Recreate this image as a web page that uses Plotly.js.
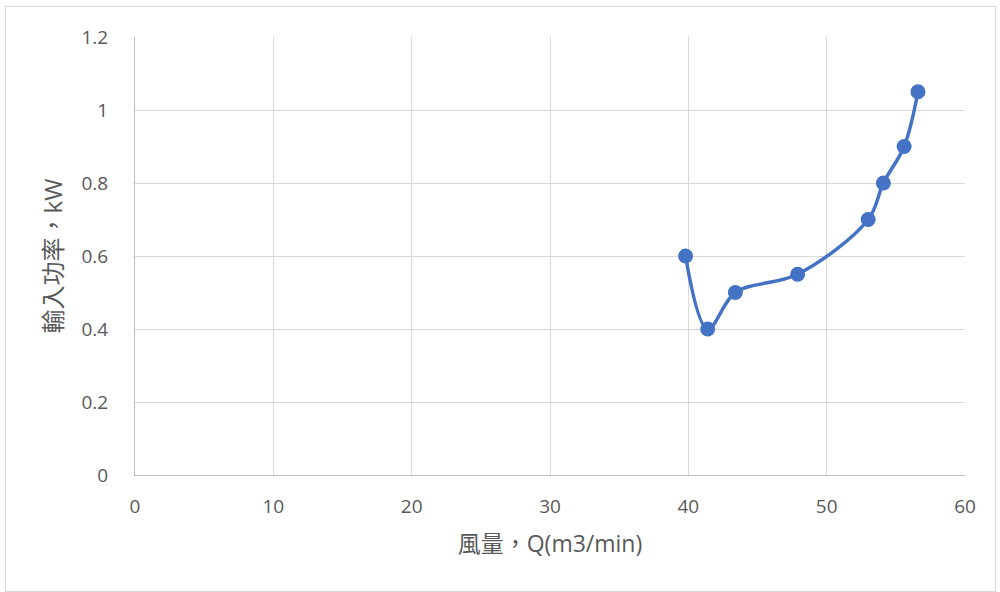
<!DOCTYPE html>
<html>
<head>
<meta charset="utf-8">
<script src="https://cdn.plot.ly/plotly-3.0.1.min.js"></script>
<style>
html,body{margin:0;padding:0;background:#fff;}
#chart{width:1000px;height:592px;}
#frame{position:absolute;left:5px;top:6px;width:989px;height:584px;border:1px solid #d9d9d9;pointer-events:none;}
</style>
</head>
<body>
<div id="chart"></div>
<div id="frame"></div>
<script>
const airflow = [39.8, 41.4, 43.4, 47.9, 53.0, 54.1, 55.6, 56.6];
const inputPower = [0.6, 0.4, 0.5, 0.55, 0.7, 0.8, 0.9, 1.05];
const xTicks = [0, 10, 20, 30, 40, 50, 60];
const yTicks = [0, 0.2, 0.4, 0.6, 0.8, 1, 1.2];
const yTickText = ['0', '0.2', '0.4', '0.6', '0.8', '1', '1.2'];

const fontFam = '"Open Sans", "Noto Sans CJK TC", sans-serif';
const trace = {
  x: airflow, y: inputPower, type: 'scatter', mode: 'lines+markers',
  line: {color: '#4472c4', width: 3.5, shape: 'spline', smoothing: 1},
  marker: {color: '#4472c4', size: 15}
};
const layout = {
  width: 1000, height: 592,
  margin: {l: 135, r: 35, t: 37, b: 117},
  paper_bgcolor: '#fff', plot_bgcolor: '#fff',
  showlegend: false,
  font: {family: fontFam, color: '#595959', size: 19},
  xaxis: {
    range: [0, 60], tickvals: xTicks, ticktext: xTicks.map(String),
    showgrid: true, gridcolor: '#d9d9d9', gridwidth: 1,
    zeroline: false, showline: true, linecolor: '#bfbfbf', linewidth: 1,
    ticks: '', ticklabelstandoff: 14,
    tickfont: {size: 19, color: '#595959', family: fontFam},
    title: {text: '風量，Q(m3/min)', font: {size: 23, color: '#595959', family: fontFam}, standoff: 18}
  },
  yaxis: {
    range: [0, 1.2], tickvals: yTicks, ticktext: yTickText,
    showgrid: true, gridcolor: '#d9d9d9', gridwidth: 1,
    zeroline: false, showline: true, linecolor: '#bfbfbf', linewidth: 1,
    ticks: '', ticklabelstandoff: 22,
    tickfont: {size: 19, color: '#595959', family: fontFam},
    title: {text: '輸入功率，kW', font: {size: 24, color: '#595959', family: fontFam}, standoff: 12}
  }
};
Plotly.newPlot('chart', [trace], layout, {displayModeBar: false, staticPlot: true});
</script>
</body>
</html>
